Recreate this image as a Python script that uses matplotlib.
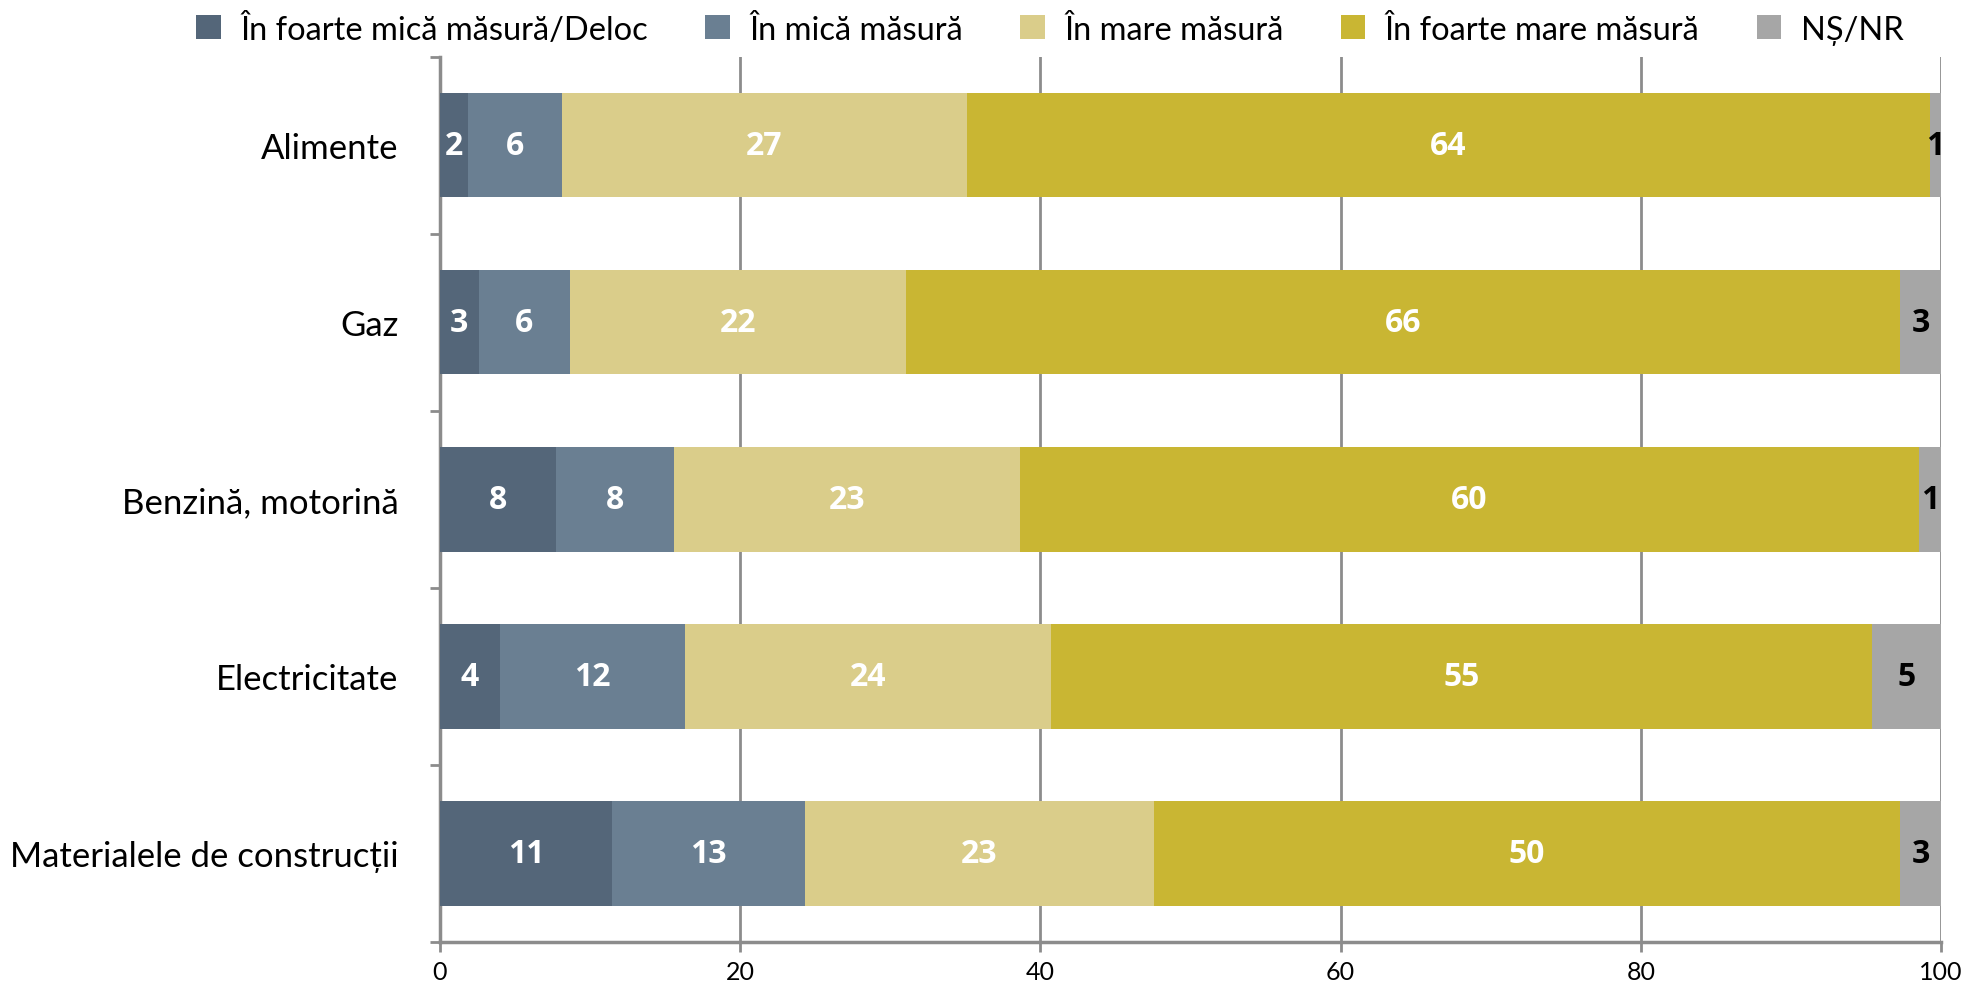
#!/usr/bin/env python3
# stacked horizontal bars - perceptii privind cresterea preturilor
import numpy as np
import matplotlib
matplotlib.use('Agg')
import matplotlib.pyplot as plt

plt.rcParams['font.family'] = ['Lato', 'DejaVu Sans']

# data (percent)
categories = ['Alimente', 'Gaz', 'Benzină, motorină', 'Electricitate',
              'Materialele de construcții']
series_names = ['În foarte mică măsură/Deloc', 'În mică măsură', 'În mare măsură',
                'În foarte mare măsură', 'NȘ/NR']
foarte_mica = [1.84, 2.58, 7.71, 3.98, 11.45]
mica = [6.27, 6.07, 7.87, 12.34, 12.85]
mare = [26.98, 22.38, 23.03, 24.40, 23.25]
foarte_mare = [64.19, 66.24, 59.93, 54.68, 49.72]
ns_nr = [0.72, 2.73, 1.46, 4.60, 2.73]
x_ticks = [0, 20, 40, 60, 80, 100]

colors = ['#546679', '#6a7f92', '#dacd8a', '#c9b633', '#a6a6a6']
label_colors = ['white', 'white', 'white', 'white', 'black']
grid_col = '#8c8c8c'

def main():
    fig = plt.figure(figsize=(19.66, 9.87), dpi=100)
    ax = fig.add_axes([0.2238, 0.0446, 0.7635, 0.897])

    y = np.arange(len(categories))
    left = np.zeros(len(categories))
    all_series = [foarte_mica, mica, mare, foarte_mare, ns_nr]
    for vals, name, col, lcol in zip(all_series, series_names, colors, label_colors):
        vals = np.array(vals)
        bars = ax.barh(y, vals, left=left, height=0.59, color=col, label=name,
                       zorder=3, linewidth=0)
        for b, v in zip(bars, vals):
            cx = b.get_x() + b.get_width() / 2
            ax.text(cx, b.get_y() + b.get_height() / 2, f'{v:.0f}', ha='center',
                    va='center', color=lcol, fontsize=23, fontweight='bold',
                    family=['Open Sans', 'DejaVu Sans'], zorder=4)
        left += vals

    ax.set_xlim(0, 100)
    ax.set_ylim(len(categories) - 0.5, -0.5)
    ax.set_xticks(x_ticks)
    ax.set_xticklabels([str(t) for t in x_ticks], fontsize=18)
    ax.set_yticks(y)
    ax.set_yticklabels(categories, fontsize=25)
    ax.tick_params(axis='y', length=0, pad=30)
    ax.set_yticks(np.arange(-0.5, len(categories)), minor=True)
    ax.tick_params(axis='y', which='minor', length=7, width=2, color=grid_col)
    ax.tick_params(axis='x', length=7, width=2, color=grid_col, pad=6)

    ax.grid(axis='x', color=grid_col, linewidth=2, zorder=0)
    for s in ['top', 'right']:
        ax.spines[s].set_visible(False)
    for s in ['left', 'bottom']:
        ax.spines[s].set_color(grid_col)
        ax.spines[s].set_linewidth(2.5)

    fig.legend(loc='upper center', bbox_to_anchor=(0.534, 1.016), ncol=5, frameon=False,
               fontsize=23.5, handlelength=0.75, handleheight=0.75, handletextpad=0.6,
               columnspacing=1.75)

    plt.savefig('out.png', dpi=100)
    plt.close()

if __name__ == "__main__":
    main()
